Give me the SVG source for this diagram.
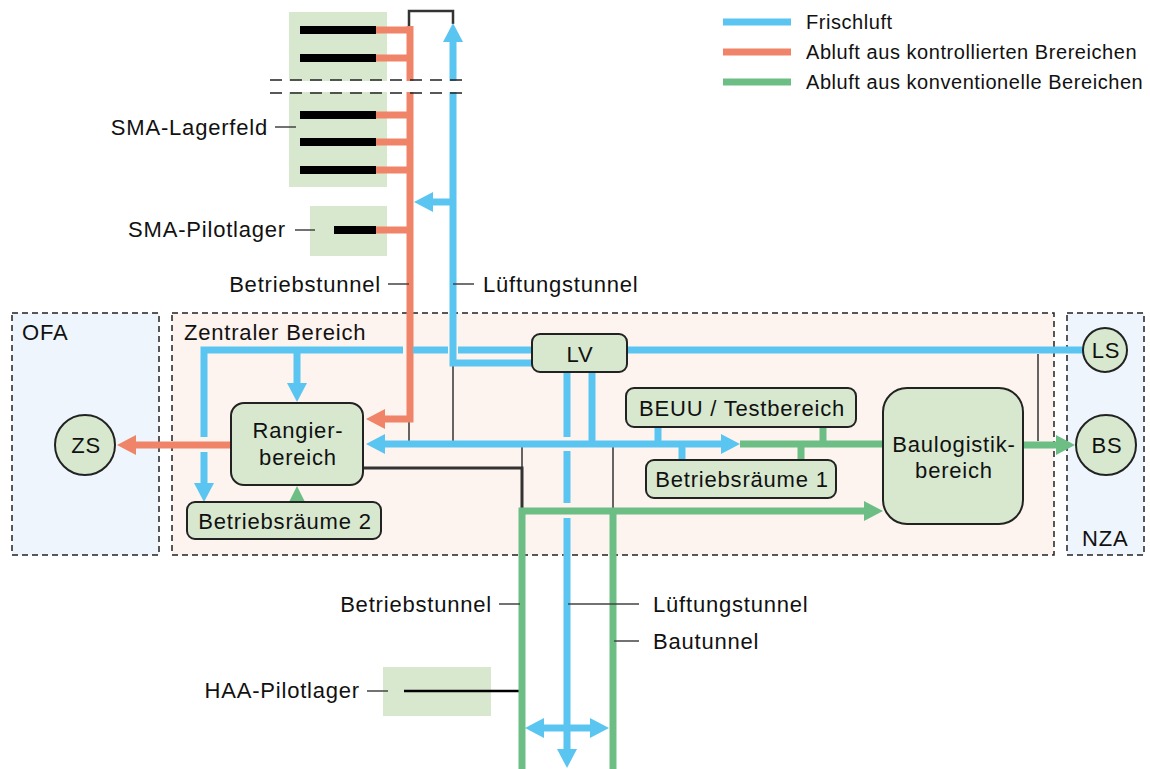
<svg xmlns="http://www.w3.org/2000/svg" width="1150" height="769" viewBox="0 0 1150 769">
  <style>
    .t { font-family: "Liberation Sans", Arial, sans-serif; font-size: 22px; letter-spacing: 0.8px; fill: #111; }
    .leg { font-family: "Liberation Sans", Arial, sans-serif; font-size: 20px; letter-spacing: 0.55px; fill: #111; }
    .mid { text-anchor: middle; }
    .end { text-anchor: end; }
    .fr { fill: none; stroke: #5BC5F1; stroke-width: 7; }
    .ab { fill: none; stroke: #EF8468; stroke-width: 7; }
    .ak { fill: none; stroke: #6DBE85; stroke-width: 7; }
    .thin { fill: none; stroke: #333; stroke-width: 1.5; }
    .thick { fill: none; stroke: #333; stroke-width: 3; }
    .lead { fill: none; stroke: #444; stroke-width: 1.3; }
    .node { fill: #D7E8CF; stroke: #222; stroke-width: 2; }
    .pane { fill: #D7E8CF; }
    .bar { fill: #000; }
    .zone { stroke: #222; stroke-width: 1.5; stroke-dasharray: 6 4; }
    .cut { fill: none; stroke: #222; stroke-width: 1.5; stroke-dasharray: 12 8; }
  </style>
  <defs>
    <marker id="hFr" markerUnits="userSpaceOnUse" markerWidth="19" markerHeight="20" refX="1" refY="10" orient="auto">
      <path d="M0,0 L19,10 L0,20 z" fill="#5BC5F1"/>
    </marker>
    <marker id="hAb" markerUnits="userSpaceOnUse" markerWidth="19" markerHeight="20" refX="1" refY="10" orient="auto">
      <path d="M0,0 L19,10 L0,20 z" fill="#EF8468"/>
    </marker>
    <marker id="hAk" markerUnits="userSpaceOnUse" markerWidth="19" markerHeight="20" refX="1" refY="10" orient="auto">
      <path d="M0,0 L19,10 L0,20 z" fill="#6DBE85"/>
    </marker>
  </defs>

  <rect width="1150" height="769" fill="#fff"/>

  <!-- areas -->
  <g id="zones">
    <rect id="zone-ofa" class="zone" x="12" y="313" width="147" height="242" fill="#EEF5FC"/>
    <rect id="zone-zentral" class="zone" x="172" y="313" width="882" height="242" fill="#FDF3EF"/>
    <rect id="zone-nza" class="zone" x="1067" y="313" width="77" height="242" fill="#EEF5FC"/>
    <text class="t" x="22" y="340">OFA</text>
    <text class="t" x="184" y="340">Zentraler Bereich</text>
    <text class="t" x="1082" y="546">NZA</text>
  </g>

  <!-- storage fields -->
  <g id="sma-lagerfeld">
    <rect class="pane" x="289" y="12" width="98" height="175"/>
    <rect class="bar" x="300" y="26" width="76" height="8"/>
    <rect class="bar" x="300" y="54" width="76" height="8"/>
    <rect class="bar" x="300" y="111" width="76" height="8"/>
    <rect class="bar" x="300" y="138" width="76" height="8"/>
    <rect class="bar" x="300" y="166" width="76" height="8"/>
  </g>
  <g id="sma-pilotlager">
    <rect class="pane" x="310" y="206" width="77" height="50"/>
    <rect class="bar" x="334" y="226" width="42" height="8"/>
  </g>
  <g id="haa-pilotlager">
    <rect class="pane" x="383" y="667" width="108" height="49"/>
  </g>

  <!-- connectors -->
  <g id="connectors">
    <!-- thin links -->
    <path class="thin" d="M409,422 V441"/>
    <path class="thin" d="M453,366 V441"/>
    <path class="thin" d="M522,447 V468"/>
    <path class="thin" d="M613,447 V509"/>
    <path class="thin" d="M1038,354 V441"/>
    <path class="thick" d="M363,468 H522 V509"/>
    <path d="M409,28 V11 H453 V24" fill="none" stroke="#333" stroke-width="2.5"/>
    <path d="M404,691 H520" fill="none" stroke="#000" stroke-width="2.5"/>

    <!-- exhaust from controlled areas -->
    <path class="ab" d="M376,30 H410 M376,58 H410 M376,115 H410 M376,142 H410 M376,170 H410 M376,230 H410"/>
    <path class="ab" d="M410,26 V419 H384" marker-end="url(#hAb)"/>
    <path class="ab" d="M231,445 H135" marker-end="url(#hAb)"/>

    <!-- fresh air -->
    <path class="fr" d="M532,363 H453 V41" marker-end="url(#hFr)"/>
    <path class="fr" d="M453,202 H432" marker-end="url(#hFr)"/>
    <path class="fr" d="M204,437 V350 H403"/>
    <path class="fr" d="M413,350 H448 M458,350 H532"/>
    <path class="fr" d="M204,452 V484" marker-end="url(#hFr)"/>
    <path class="fr" d="M297,350 V384" marker-end="url(#hFr)"/>
    <path class="fr" d="M627,350 H1085"/>
    <path class="fr" d="M592,372 V444"/>
    <path class="fr" d="M592,444 H384" marker-end="url(#hFr)"/>
    <path class="fr" d="M592,444 H722" marker-end="url(#hFr)"/>
    <path class="fr" d="M658,427 V444 M682,444 V460"/>
    <path class="fr" d="M567,372 V437 M567,451 V503"/>
    <path class="fr" d="M567,518 V750" marker-end="url(#hFr)"/>
    <path class="fr" d="M567,728 H543" marker-end="url(#hFr)"/>
    <path class="fr" d="M567,728 H591" marker-end="url(#hFr)"/>

    <!-- exhaust from conventional areas -->
    <path class="ak" d="M740,444 H883 M823,427 V444 M801,444 V460"/>
    <path class="ak" d="M1023,445 H1057" marker-end="url(#hAk)"/>
    <path class="ak" d="M522,769 V511 H865" marker-end="url(#hAk)"/>
    <path class="ak" d="M613,511 V769"/>
    <polygon points="289,502 305,502 297,486" fill="#6DBE85"/>

    <!-- break in the storage field drawing -->
    <rect x="262" y="81" width="212" height="11" fill="#fff"/>
    <path class="cut" d="M270,80 H470 M270,93 H470"/>
  </g>

  <!-- nodes -->
  <g id="node-zs">
    <circle class="node" cx="85" cy="445" r="30"/>
    <text class="t mid" x="86" y="453">ZS</text>
  </g>
  <g id="node-rangierbereich">
    <rect class="node" x="231" y="403" width="132" height="82" rx="13"/>
    <text class="t mid" x="298" y="438">Rangier-</text>
    <text class="t mid" x="298" y="465">bereich</text>
  </g>
  <g id="node-betriebsraeume2">
    <rect class="node" x="187" y="502" width="194" height="37" rx="8"/>
    <text class="t mid" x="285" y="529">Betriebsräume 2</text>
  </g>
  <g id="node-lv">
    <rect class="node" x="532" y="334" width="95" height="38" rx="8"/>
    <text class="t mid" x="580" y="362">LV</text>
  </g>
  <g id="node-beuu">
    <rect class="node" x="626" y="388" width="230" height="39" rx="8"/>
    <text class="t mid" x="742" y="416">BEUU / Testbereich</text>
  </g>
  <g id="node-betriebsraeume1">
    <rect class="node" x="646" y="460" width="190" height="38" rx="8"/>
    <text class="t mid" x="742" y="487">Betriebsräume 1</text>
  </g>
  <g id="node-baulogistik">
    <rect class="node" x="883" y="388" width="140" height="136" rx="24"/>
    <text class="t mid" x="954" y="452">Baulogistik-</text>
    <text class="t mid" x="954" y="478">bereich</text>
  </g>
  <g id="node-ls">
    <circle class="node" cx="1105" cy="350" r="22"/>
    <text class="t mid" x="1106" y="358">LS</text>
  </g>
  <g id="node-bs">
    <circle class="node" cx="1106" cy="445" r="30"/>
    <text class="t mid" x="1107" y="453">BS</text>
  </g>

  <!-- labels with leader lines -->
  <g id="labels">
    <path class="lead" d="M275,127 H296 M295,230 H315 M388,284 H409 M453,284 H474 M499,604 H520 M568,604 H639 M614,641 H639 M367,691 H388"/>
    <text class="t end" x="268" y="135">SMA-Lagerfeld</text>
    <text class="t end" x="286" y="237">SMA-Pilotlager</text>
    <text class="t end" x="381" y="292">Betriebstunnel</text>
    <text class="t" x="483" y="292">Lüftungstunnel</text>
    <text class="t end" x="492" y="612">Betriebstunnel</text>
    <text class="t" x="653" y="612">Lüftungstunnel</text>
    <text class="t" x="653" y="649">Bautunnel</text>
    <text class="t end" x="360" y="698">HAA-Pilotlager</text>
  </g>

  <!-- legend -->
  <g id="legend">
    <path class="fr" d="M723,22 H791"/>
    <path class="ab" d="M723,52 H791"/>
    <path class="ak" d="M723,82 H791"/>
    <text class="leg" x="806" y="29">Frischluft</text>
    <text class="leg" x="806" y="59">Abluft aus kontrollierten Brereichen</text>
    <text class="leg" x="806" y="89">Abluft aus konventionelle Bereichen</text>
  </g>
</svg>
